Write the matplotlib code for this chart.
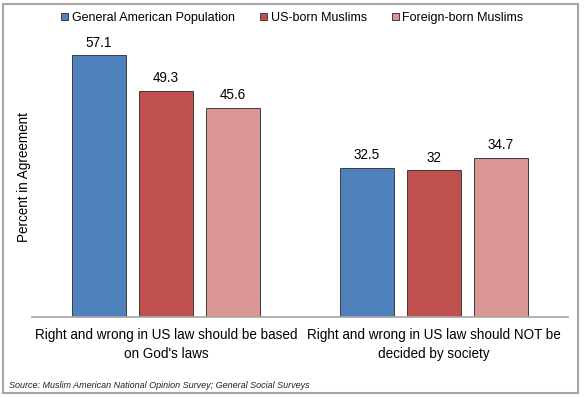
import numpy as np
import matplotlib
matplotlib.use("Agg")
import matplotlib.pyplot as plt
from matplotlib.patches import Rectangle, Patch

# -------------------------------
# DATA
# -------------------------------
categories = ["Right and wrong in US law should be based\non God's laws",
              "Right and wrong in US law should NOT be\ndecided by society"]
series_names = ["General American Population", "US-born Muslims", "Foreign-born Muslims"]
general_pop = [57.1, 32.5]
us_born = [49.3, 32]
foreign_born = [45.6, 34.7]
label_text = [["57.1", "32.5"], ["49.3", "32"], ["45.6", "34.7"]]

colors = ["#4F81BD", "#C0504D", "#D99694"]

plt.rcParams['font.family'] = ['Liberation Sans', 'DejaVu Sans']

# -------------------------------
# PLOT
# -------------------------------
fig = plt.figure(figsize=(5.85, 3.97), dpi=100)
ax = fig.add_axes([32 / 585, 1 - 317 / 397, 536 / 585, 275 / 397])

x = np.arange(len(categories))
width = 0.2
offsets = [-0.25, 0, 0.25]
all_series = [general_pop, us_born, foreign_born]

for i, vals in enumerate(all_series):
    bars = ax.bar(x + offsets[i], vals, width, color=colors[i],
                  edgecolor="#3c3c3c", linewidth=0.7, label=series_names[i])
    for b, txt in zip(bars, label_text[i]):
        ax.annotate(txt, (b.get_x() + b.get_width() / 2, b.get_height()),
                    xytext=(0, 4), textcoords="offset points",
                    ha="center", va="bottom", fontsize=9.75)

ax.set_xlim(-0.5, 1.5)
ax.set_ylim(0, 60)
ax.set_yticks([])
ax.set_xticks(x)
ax.set_xticklabels(categories, fontsize=9.75, linespacing=1.4)
ax.tick_params(axis="x", length=0, pad=8)
for s in ["top", "left", "right"]:
    ax.spines[s].set_visible(False)
ax.spines["bottom"].set_color("#a6a6a6")
ax.spines["bottom"].set_linewidth(1.2)

# y label placed by hand so it sits where the reference has it
fig.text(24 / 585, 1 - 177 / 397, "Percent in Agreement", rotation=90,
         ha="center", va="center", fontsize=9.75)

handles = [Patch(facecolor=c, edgecolor="#3c3c3c", linewidth=0.7) for c in colors]
fig.legend(handles, series_names, loc="center", bbox_to_anchor=(0.5, 1 - 18 / 397),
           ncol=3, frameon=False, fontsize=9, handlelength=0.55, handleheight=0.55,
           handletextpad=0.3, columnspacing=2.0)

fig.text(9 / 585, 1 - 385 / 397, "Source: Muslim American National Opinion Survey; General Social Surveys",
         fontsize=6.5, style="italic", va="center", ha="left", color="#222222")

# outer frame
fig.patches.append(Rectangle((3 / 585, 1 - 393 / 397), 575 / 585, 389 / 397,
                             transform=fig.transFigure, fill=False,
                             edgecolor="#a6a6a6", linewidth=1.5))

plt.savefig("out.png", dpi=100)
plt.close()
